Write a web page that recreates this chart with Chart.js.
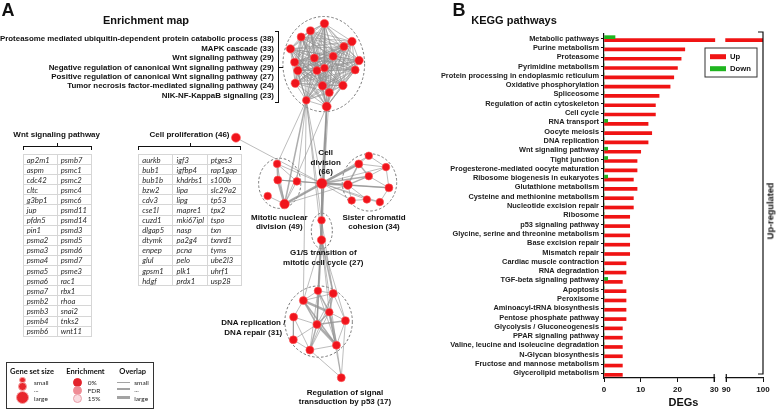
<!DOCTYPE html>
<html>
<head>
<meta charset="utf-8">
<script src="https://cdn.jsdelivr.net/npm/chart.js@4.4.1/dist/chart.umd.min.js"></script>
<style>
body{margin:0;width:778px;height:410px;position:relative;overflow:hidden;background:#fff;font-family:"Liberation Sans",Arial,sans-serif;}
canvas{position:absolute;top:0;}
.t{position:absolute;white-space:nowrap;line-height:1;font-weight:bold;color:#111;transform-origin:0 0;}
.gt{position:absolute;display:grid;border-top:1px solid #d6d6d6;border-left:1px solid #d6d6d6;font-family:Lato,"Open Sans",sans-serif;font-style:italic;font-size:7.7px;color:#2a2a2a;}
.gt div{box-sizing:border-box;border-right:1px solid #d6d6d6;border-bottom:1px solid #d6d6d6;padding-left:3px;display:flex;align-items:center;}
.br{position:absolute;border:0 solid #111;box-sizing:border-box;}
.dot{position:absolute;border-radius:50%;box-sizing:border-box;}
.lg{position:absolute;white-space:nowrap;line-height:1;font-family:Lato,sans-serif;transform:translate(0,-50%);color:#222;}
</style>
</head>
<body>
<canvas id="net" width="420" height="410" style="left:0"></canvas>
<canvas id="kegg" width="358" height="410" style="left:420px"></canvas>
<script>
// ---------- panel B data ----------
const keggNames = [
  "Metabolic pathways", "Purine metabolism", "Proteasome", "Pyrimidine metabolism",
  "Protein processing in endoplasmic reticulum", "Oxidative phosphorylation", "Spliceosome",
  "Regulation of actin cytoskeleton", "Cell cycle", "RNA transport", "Oocyte meiosis",
  "DNA replication", "Wnt signaling pathway", "Tight junction",
  "Progesterone-mediated oocyte maturation", "Ribosome biogenesis in eukaryotes",
  "Glutathione metabolism", "Cysteine and methionine metabolism", "Nucleotide excision repair",
  "Ribosome", "p53 signaling pathway", "Glycine, serine and threonine metabolism",
  "Base excision repair", "Mismatch repair", "Cardiac muscle contraction", "RNA degradation",
  "TGF-beta signaling pathway", "Apoptosis", "Peroxisome", "Aminoacyl-tRNA biosynthesis",
  "Pentose phosphate pathway", "Glycolysis / Gluconeogenesis", "PPAR signaling pathway",
  "Valine, leucine and isoleucine degradation", "N-Glycan biosynthesis",
  "Fructose and mannose metabolism", "Glycerolipid metabolism"
];
const upDEGs = [100, 22, 21, 20, 19, 18, 15, 14, 14, 12, 13, 12, 10, 9, 9, 8, 9, 8, 8, 7, 7, 7, 7, 7, 6, 6, 5, 6, 6, 6, 6, 5, 5, 5, 5, 5, 5];
const downDEGs = [3, 0, 0, 0, 0, 0, 0, 0, 0, 1, 0, 0, 1, 1, 0, 1, 0, 0, 0, 0, 0, 0, 0, 0, 0, 0, 1, 0, 0, 0, 0, 0, 0, 0, 0, 0, 0];
const degTicks = [0, 10, 20, 30, 90, 100];
const axisBreak = [30, 90];

// ---------- panel A data ----------
const goTerms = [
  "Proteasome mediated ubiquitin-dependent protein catabolic process (38)",
  "MAPK cascade (33)", "Wnt signaling pathway (29)",
  "Negative regulation of canonical Wnt signaling pathway (29)",
  "Positive regulation of canonical Wnt signaling pathway (27)",
  "Tumor necrosis factor-mediated signaling pathway (24)",
  "NIK-NF-KappaB signaling (23)"
];
const wntGenes = [
  ["ap2m1","aspm","cdc42","cltc","g3bp1","jup","pfdn5","pin1","psma2","psma3","psma4","psma5","psma6","psma7","psmb2","psmb3","psmb4","psmb6"],
  ["psmb7","psmc1","psmc2","psmc4","psmc6","psmd11","psmd14","psmd3","psmd5","psmd6","psmd7","psme3","rac1","rbx1","rhoa","snai2","tnks2","wnt11"]
];
const prolifGenes = [
  ["aurkb","bub1","bub1b","bzw2","cdv3","cse1l","cuzd1","dlgap5","dtymk","enpep","glul","gpsm1","hdgf"],
  ["igf3","igfbp4","khdrbs1","lipa","lipg","mapre1","mki67ipl","nasp","pa2g4","pcna","pelo","plk1","prdx1"],
  ["ptges3","rap1gap","s100b","slc29a2","tp53","tpx2","tspo","txn","txnrd1","tyms","ube2l3","uhrf1","usp28"]
];
// enrichment map layout (node positions)
const nodeX = [327.7,313.3,303.7,292.7,356,347.7,336.7,317.3,297,363.3,300.3,320,327.7,359.3,297.7,325.7,346.7,332.7,309,330,
  236.7, 279,279.7,299.3,269.3,286.7, 325, 373.3,363,391,373.3,351.7,394,355.7,371.3,384.7, 324.7,324.7,
  321,336.7,306,332.7,296,349.3,320,295.7,340,312.7, 345];
const nodeY = [18.3,25.7,32,44.3,36.7,42,52,53.7,58,56.3,66.7,66.7,64,66,79.7,82.3,82,89.3,97.3,103.7,
  135.7, 162.7,179.3,180.7,195.7,204, 182.7, 154.3,162.7,166,175.3,184.3,187.3,200.3,199.3,202, 220.7,241,
  293.3,296,303.3,315.3,320.3,324,328,343.7,349.3,354.3, 382.7];
const nodeR = [4.2,4,4,4.2,4.2,4,4,4,4,4.2,4.2,4,3.8,4,4.2,4.2,4.2,4,3.8,4.5,
  4.5, 3.8,4,3.8,3.8,4.8, 5.2, 3.8,4,3.8,3.8,4.5,4,3.8,3.8,3.8, 3.8,4.2,
  3.8,4,4,3.8,4,4,4,4,4,4, 4];
const topCluster = [0,1,2,3,4,5,6,7,8,9,10,11,12,13,14,15,16,17,18,19];
// [from, to, overlap class 1..3]
const otherEdges = [
  [18,21,1],[18,25,2],[18,23,1],[18,26,1],[19,26,2],[19,25,1],[18,36,1],[19,36,1],[19,37,2],[18,37,1],[19,38,1],[18,40,1],[17,36,1],
  [20,26,1],
  [21,22,2],[21,25,1],[22,25,3],[22,23,1],[23,25,1],[24,25,1],[21,23,1],
  [23,26,1],[25,26,3],[21,26,1],[22,26,1],[25,31,1],[25,28,1],[22,31,1],
  [26,27,1],[26,28,3],[26,29,1],[26,30,2],[26,31,3],[26,32,1],[26,33,1],[26,34,1],[26,35,1],
  [27,28,1],[28,30,2],[28,31,2],[29,30,1],[29,32,1],[30,31,2],[30,32,1],[31,33,1],[31,34,1],[33,34,1],[34,35,1],[32,35,1],[27,29,1],[28,29,1],[31,32,2],
  [26,36,1],[36,37,3],
  [37,38,1],[37,39,2],[37,40,1],[37,41,1],[37,43,1],[36,39,1],[36,44,1],[37,46,1],[37,44,2],
  [38,39,1],[38,40,1],[38,41,2],[38,44,1],[39,41,2],[39,43,1],[39,44,1],[40,42,1],[40,41,3],[40,44,2],[41,43,1],[41,44,2],
  [41,46,3],[41,47,1],[42,44,1],[42,47,1],[43,46,1],[44,45,1],[44,46,3],[44,47,2],[45,47,1],[46,47,1],[39,40,1],[38,46,1],
  [40,46,2],[39,47,1],[42,45,1],[43,44,2],[38,47,1],
  [46,48,1],[47,48,1],[43,48,1],[41,48,1]
];
const clusterEllipses = [
  {cx:327,cy:60,rx:42,ry:49},{cx:281.7,cy:182.7,rx:21.7,ry:25.8},{cx:374,cy:181.7,rx:28,ry:29.5},
  {cx:325,cy:231.7,rx:10.8,ry:18.3},{cx:321.7,cy:325,rx:34.7,ry:36.7}
];

// ---------- helpers ----------
function put(text, x, y, size, align, rot, extra) {
  const d = document.createElement('div');
  d.className = 't';
  d.textContent = text;
  d.style.left = x + 'px';
  d.style.top = y + 'px';
  d.style.fontSize = size + 'px';
  const tx = align === 'right' ? '-100%' : align === 'left' ? '0' : '-50%';
  d.style.transform = `rotate(${rot || 0}deg) translate(${tx},-50%)`;
  if (extra) Object.assign(d.style, extra);
  document.body.appendChild(d);
}
function box(cls, l, t, w, h, st) {
  const d = document.createElement('div');
  d.className = cls;
  Object.assign(d.style, {left: l + 'px', top: t + 'px', width: w + 'px', height: h + 'px'}, st);
  document.body.appendChild(d);
}
function geneTable(cols, left, top, colW, rowH) {
  const g = document.createElement('div');
  g.className = 'gt';
  g.style.left = left + 'px';
  g.style.top = top + 'px';
  g.style.gridTemplateColumns = cols.map(() => colW + 'px').join(' ');
  g.style.gridAutoRows = rowH + 'px';
  for (let r = 0; r < cols[0].length; r++)
    for (let c = 0; c < cols.length; c++) {
      const cell = document.createElement('div');
      cell.textContent = cols[c][r];
      g.appendChild(cell);
    }
  document.body.appendChild(g);
}

// ---------- panel A text ----------
put("A", 8, 9.5, 18);
put("Enrichment map", 146, 20, 11);
goTerms.forEach((s, i) => put(s, 274, [39.3,49,58.3,67.7,77,86.3,96][i], 7.9, 'right'));
box('br', 274.5, 31, 4.5, 72, {borderWidth:'1.3px 1.3px 1.3px 0'});
box('br', 278.5, 66.5, 4.5, 1, {borderTopWidth:'1.3px'});

put("Wnt signaling pathway", 56.7, 135, 8);
box('br', 22.7, 146, 69, 4, {borderWidth:'1.3px 1.3px 0 1.3px'});
box('br', 56.5, 142.5, 1, 4, {borderLeftWidth:'1.3px'});
geneTable(wntGenes, 22.7, 154, 34, 10.1);

put("Cell proliferation (46)", 189.5, 135, 8);
box('br', 138.3, 146, 103, 4, {borderWidth:'1.3px 1.3px 0 1.3px'});
box('br', 189.5, 142.5, 1, 4, {borderLeftWidth:'1.3px'});
geneTable(prolifGenes, 138.3, 154, 34.2, 10.1);

[["Cell",325.7,153.3],["division",325.7,162.7],["(66)",325.7,172.3],
 ["Mitotic nuclear",279.3,217.7],["division (49)",279.3,227.3],
 ["Sister chromatid",374,217.7],["cohesion (34)",374,227.3],
 ["G1/S transition of",323.3,253.3],["mitotic cell cycle (27)",323.3,263],
 ["DNA replication /",253.3,323.3],["DNA repair (31)",253.3,332.7],
 ["Regulation of signal",345,392.7],["transduction by p53 (17)",345,401.5]
].forEach(a => put(a[0], a[1], a[2], 8));

// legend of panel A
box('br', 6, 362, 148, 47, {borderWidth:'1.5px', borderColor:'#333'});
[["Gene set size",32],["Enrichment",85.5],["Overlap",132.7]].forEach(a =>
  put(a[0], a[1], 372.3, 7.5, 'center', 0, {fontFamily:'Lato,sans-serif'}));
[[22.3,397.7,6.5],[22.3,386.7,4.5],[22.3,380,3.4]].forEach(c =>
  box('dot', c[0]-c[2], c[1]-c[2], 2*c[2], 2*c[2], {background:'#e8262c', border:'0.6px solid #f5a0a0'}));
[[382.5,'#e3232c','#e3232c'],[390.3,'#ef8b95','#ef8b95'],[398.3,'#fadbe0','#e9a0aa']].forEach(c =>
  box('dot', 77.3-4.5, c[0]-4.5, 9, 9, {background:c[1], border:'0.6px solid '+c[2]}));
[[382.3,1],[389.3,2.2],[397.7,3.6]].forEach(c =>
  box('dot', 117, c[0]-c[1]/2, 13, c[1], {background:'#a3a3a3', borderRadius:'0'}));
[["small",382.7],["...",389.5],["large",398.7]].forEach(a => {
  const e = document.createElement('div'); e.className='lg'; e.style.fontSize='6.5px';
  e.style.left='34px'; e.style.top=a[1]+'px'; e.textContent=a[0]; document.body.appendChild(e);
  const f = e.cloneNode(true); f.style.left='134.3px'; document.body.appendChild(f);
});
[["0%",382.7],["FDR",390.7],["15%",398.7]].forEach(a => {
  const e = document.createElement('div'); e.className='lg'; e.style.fontSize='6.5px';
  e.style.left='87.7px'; e.style.top=a[1]+'px'; e.textContent=a[0]; document.body.appendChild(e);
});

// ---------- panel A network ----------
const edgeList = [];
for (let i = 0; i < topCluster.length; i++)
  for (let j = i + 1; j < topCluster.length; j++) edgeList.push([topCluster[i], topCluster[j], 1]);
otherEdges.forEach(e => edgeList.push(e));
const edgeWidth = [0, 0.8, 1.5, 2.5];

const ellipsePlugin = {
  id: 'clusters',
  beforeDatasetsDraw(chart) {
    const {ctx, scales: {x, y}} = chart;
    ctx.save();
    ctx.strokeStyle = '#6a6a6a';
    ctx.lineWidth = 0.9;
    ctx.setLineDash([2.5, 2]);
    clusterEllipses.forEach(e => {
      const px = x.getPixelForValue(e.cx), py = y.getPixelForValue(e.cy);
      const rx = x.getPixelForValue(e.cx + e.rx) - px, ry = y.getPixelForValue(e.cy + e.ry) - py;
      ctx.beginPath();
      ctx.ellipse(px, py, Math.abs(rx), Math.abs(ry), 0, 0, Math.PI * 2);
      ctx.stroke();
    });
    ctx.restore();
  }
};

new Chart(document.getElementById('net'), {
  type: 'scatter',
  data: {
    datasets: [{
      data: nodeX.map((v, i) => ({x: v, y: nodeY[i]})),
      pointRadius: nodeR,
      backgroundColor: '#f0141c',
      borderColor: '#ff5a5a',
      borderWidth: 0.6
    }].concat(edgeList.map(e => ({
      data: [{x: nodeX[e[0]], y: nodeY[e[0]]}, {x: nodeX[e[1]], y: nodeY[e[1]]}],
      showLine: true,
      pointRadius: 0,
      borderColor: 'rgba(145,145,145,0.75)',
      borderWidth: edgeWidth[e[2]]
    })))
  },
  options: {
    responsive: false, animation: false, events: [],
    layout: {padding: 0},
    plugins: {legend: {display: false}, tooltip: {enabled: false}},
    scales: {
      x: {type: 'linear', min: 0, max: 420, display: false},
      y: {type: 'linear', min: 0, max: 410, reverse: true, display: false}
    }
  },
  plugins: [ellipsePlugin]
});

// ---------- panel B ----------
const gapUnits = 3.3;
// broken axis: 0-30 then 90-100
function brk(v) { return v <= axisBreak[0] ? v : v - (axisBreak[1] - axisBreak[0]) + gapUnits; }

put("B", 459, 10, 18);
put("KEGG pathways", 514, 19.5, 11);
put("Up-regulated", 771, 211, 9.2, 'center', -90);

const tickFont = {family: '"Liberation Sans", Arial, sans-serif', size: 7.4, weight: 'bold'};

const keggPlugin = {
  id: 'keggExtras',
  afterDraw(chart) {
    const {ctx, chartArea: a, scales: {x}} = chart;
    const p1 = x.getPixelForValue(brk(axisBreak[0])), p2 = x.getPixelForValue(brk(axisBreak[1]));
    ctx.save();
    ctx.fillStyle = '#fff';
    ctx.fillRect(p1 + 1, a.top - 2, p2 - p1 - 2, a.bottom - a.top + 4);
    ctx.strokeStyle = '#111';
    ctx.lineWidth = 1.2;
    ctx.beginPath();
    [p1, p2].forEach(p => { ctx.moveTo(p, a.bottom - 4); ctx.lineTo(p, a.bottom + 4); });
    // up-regulated bracket
    ctx.moveTo(a.right - 5, a.top - 2);
    ctx.lineTo(a.right, a.top - 2);
    ctx.lineTo(a.right, a.bottom - 4);
    ctx.lineTo(a.right - 5, a.bottom - 4);
    ctx.stroke();
    // legend
    const lx = a.right - 58, ly = a.top + 14;
    ctx.lineWidth = 1;
    ctx.strokeStyle = '#333';
    ctx.strokeRect(lx, ly, 52, 29);
    ctx.font = 'bold 7.7px "Liberation Sans", Arial, sans-serif';
    ctx.textBaseline = 'middle';
    const items = chart.data.datasets.slice().reverse();
    items.forEach((d, i) => {
      const yy = ly + 8.7 + i * 12;
      ctx.fillStyle = d.backgroundColor;
      ctx.fillRect(lx + 5, yy - 2.5, 16, 5);
      ctx.fillStyle = '#111';
      ctx.fillText(d.label, lx + 25, yy);
    });
    ctx.restore();
  }
};

new Chart(document.getElementById('kegg'), {
  type: 'bar',
  data: {
    labels: keggNames,
    datasets: [
      {label: 'Down', data: downDEGs.map(brk), backgroundColor: '#1fb51f', barThickness: 3},
      {label: 'Up', data: upDEGs.map(brk), backgroundColor: '#f01414', barThickness: 3}
    ]
  },
  options: {
    indexAxis: 'y', responsive: false, animation: false, events: [],
    layout: {padding: {top: 34, right: 15, left: 0, bottom: 0}},
    plugins: {legend: {display: false}, tooltip: {enabled: false}},
    scales: {
      y: {
        grid: {offset: false, drawOnChartArea: false, tickLength: 3, color: '#111', tickWidth: 1},
        border: {color: '#111', width: 1.2},
        ticks: {font: tickFont, color: '#222', padding: 2, autoSkip: false},
        afterFit(s) { s.width = 184; }
      },
      x: {
        type: 'linear', min: 0, max: brk(100),
        afterBuildTicks(s) { s.ticks = degTicks.map(v => ({value: brk(v)})); },
        grid: {drawOnChartArea: false, tickLength: 4, color: '#111'},
        border: {color: '#111', width: 1.2},
        ticks: {font: {...tickFont, size: 8}, color: '#111', padding: 3, maxRotation: 0,
          callback: (v, i) => degTicks[i]},
        title: {display: true, text: 'DEGs', color: '#111', padding: {top: 0, bottom: 0},
          font: {family: '"Liberation Sans", Arial, sans-serif', size: 11, weight: 'bold'}},
        afterFit(s) { s.height = 32; }
      }
    }
  },
  plugins: [keggPlugin]
});
</script>
</body>
</html>
